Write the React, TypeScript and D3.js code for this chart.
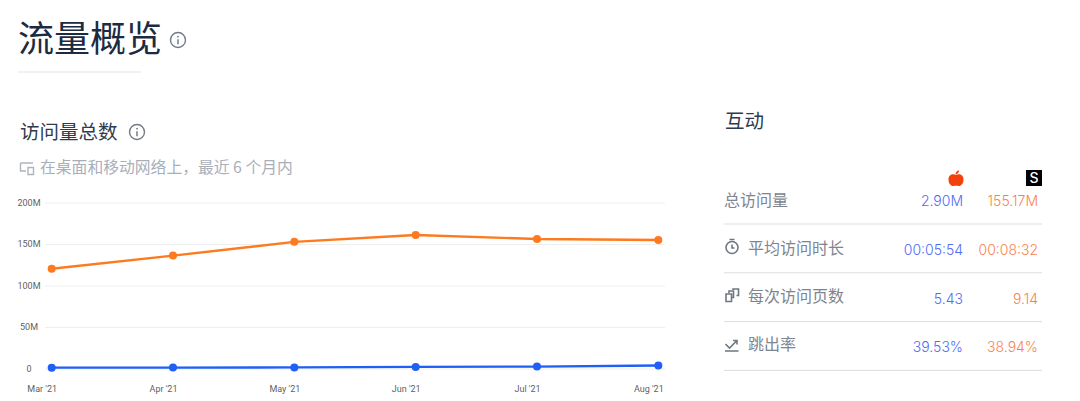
import { useEffect, useRef } from "react"
import * as d3 from "d3"

const months = ["Mar '21", "Apr '21", "May '21", "Jun '21", "Jul '21", "Aug '21"]
const yTicks = [0, 50, 100, 150, 200]
const siteA = [1, 1.1, 1.3, 1.9, 2.3, 3.7]
const siteB = [120.2, 136, 152.6, 160.8, 156, 154.8]

const rowLabels = ["总访问量", "平均访问时长", "每次访问页数", "跳出率"]
const rowA = ["2.90M", "00:05:54", "5.43", "39.53%"]
const rowB = ["155.17M", "00:08:32", "9.14", "38.94%"]

const CJK = "'Noto Sans CJK SC', 'Noto Sans', sans-serif"
const LATIN = "Inter, 'Noto Sans CJK SC', sans-serif"

function InfoIcon({ x, y, r }: { x: number; y: number; r: number }) {
  return (
    <g transform={`translate(${x},${y})`} fill="none" stroke="#737b87">
      <circle r={r} strokeWidth={1.4} />
      <line x1={0} x2={0} y1={-0.8} y2={r * 0.55} strokeWidth={1.5} />
      <circle cy={-r * 0.45} r={0.9} fill="#737b87" stroke="none" />
    </g>
  )
}

export default function App() {
  const svgRef = useRef<SVGSVGElement>(null)

  useEffect(() => {
    if (!svgRef.current) return
    const root = d3.select(svgRef.current).select<SVGGElement>("g.chart")
    root.selectAll("*").remove()

    const x = d3.scalePoint<string>().domain(months).range([45, 665]).padding(0.055)
    const y = d3.scaleLinear().domain([0, 200]).range([368.5, 202.5])

    // Grid lines and y labels, the labels are centred in their gutter
    const yAxis = root
      .append("g")
      .attr("transform", "translate(45,0)")
      .call(
        d3
          .axisLeft(y)
          .tickValues(yTicks)
          .tickSize(-620)
          .tickFormat((d) => (+d === 0 ? "0" : `${d}M`)),
      )
    yAxis.select(".domain").remove()
    yAxis.selectAll(".tick line").attr("stroke", "#eeeeee").attr("stroke-width", 1)
    yAxis
      .selectAll("text")
      .attr("x", -16)
      .attr("text-anchor", "middle")
      .attr("dy", "0.3em")
      .attr("fill", "#5f5f5f")
      .style("font-family", "Roboto, sans-serif")
      .style("font-size", "9px")

    // Month labels, sitting a little left of their points
    const xAxis = root
      .append("g")
      .attr("transform", "translate(-10,386)")
      .call(d3.axisBottom(x).tickSize(0).tickPadding(0))
    xAxis.select(".domain").remove()
    xAxis
      .selectAll("text")
      .attr("fill", "#5f5f5f")
      .style("font-family", "Roboto, sans-serif")
      .style("font-size", "9px")

    const line = d3
      .line<number>()
      .x((_, i) => x(months[i]) as number)
      .y((d) => y(d))

    const series: [number[], string][] = [
      [siteB, "#fd7a1e"],
      [siteA, "#1f5ff5"],
    ]
    series.forEach(([values, color]) => {
      root
        .append("path")
        .datum(values)
        .attr("fill", "none")
        .attr("stroke", color)
        .attr("stroke-width", 2.4)
        .attr("d", line)
      root
        .selectAll(null)
        .data(values)
        .enter()
        .append("circle")
        .attr("cx", (_, i) => x(months[i]) as number)
        .attr("cy", (d) => y(d))
        .attr("r", 4)
        .attr("fill", color)
    })
  }, [])

  return (
    <svg
      ref={svgRef}
      width={1080}
      height={401}
      style={{ position: "absolute", left: 0, top: 0, background: "#fff" }}
    >
      <text x={18} y={52} fontFamily={CJK} fontSize={36} fill="#1c2b41">
        流量概览
      </text>
      <InfoIcon x={178} y={40} r={7.5} />
      <line x1={18} x2={141} y1={72} y2={72} stroke="#e4e5e9" strokeWidth={1} />

      <text x={20} y={139} fontFamily={CJK} fontSize={19.5} fill="#2f3b4c">
        访问量总数
      </text>
      <InfoIcon x={137} y={132} r={7.5} />

      <g fill="none" stroke="#aeb4bd" strokeWidth={1.4}>
        <path d="M20.500 163h12.500M20.500 163v8h5.500M28 167.500h5.500v7h-5.500z" />
      </g>
      <text x={40} y={173} fontFamily={CJK} fontSize={15.800} fill="#a9afb9">
        在桌面和移动网络上，最近 6 个月内
      </text>

      <g className="chart" />

      <text x={725} y={128} fontFamily={CJK} fontSize={19.5} fill="#2f3b4c">
        互动
      </text>

      {/* column heads */}
      <path
        d="M956 175c2.500-1.500 7.500-1 7.500 4.500c0 4.500-3 7-5 6.500c-1.500-.4-3.500-.4-5 0c-2 .5-5-2-5-6.500c0-5.500 5-6 7.500-4.500zM955.500 174.500c0-2 1.500-4 3.500-4.200c0 2.200-1.200 4-3.500 4.200z"
        fill="#f4410b"
      />
      <rect x={1026} y={170} width={16} height={16} fill="#000" />
      <text x={1034} y={183} textAnchor="middle" fontFamily="Inter, sans-serif" fontWeight={500} fontSize={14} fill="#fff">
        S
      </text>

      {rowLabels.map((label, i) => {
        const labelY = 206 + i * 48
        const valueY = 206 + i * 48.8
        return (
          <g key={label}>
            <text x={i === 0 ? 724 : 748} y={labelY} fontFamily={CJK} fontSize={16} fill="#7d8591">
              {label}
            </text>
            <text x={963} y={valueY} textAnchor="end" fontFamily={LATIN} fontWeight={300} fontSize={14} fill="#4f6af5">
              {rowA[i]}
            </text>
            <text x={1038} y={valueY} textAnchor="end" fontFamily={LATIN} fontWeight={300} fontSize={14} fill="#fb8150">
              {rowB[i]}
            </text>
            <line x1={724} x2={1042} y1={224 + i * 48.8} y2={224 + i * 48.8} stroke="#dcdde0" strokeWidth={1} />
          </g>
        )
      })}

      {/* row icons */}
      <g fill="none" stroke="#6f7783" strokeWidth={1.6}>
        <circle cx={732} cy={247.500} r={6} />
        <path d="M732 244.500v3.500h2.500M729.500 239.500h5" />
        <path d="M726 294h5.500v7.500h-5.500zM729 293v-2h4.500v6.500h-2M733 290v-1h5.500v6.500h-2" />
        <path d="M725 351h13.500M725.500 344l4 4l7-7M733 340.500h4v4" />
      </g>
    </svg>
  )
}
